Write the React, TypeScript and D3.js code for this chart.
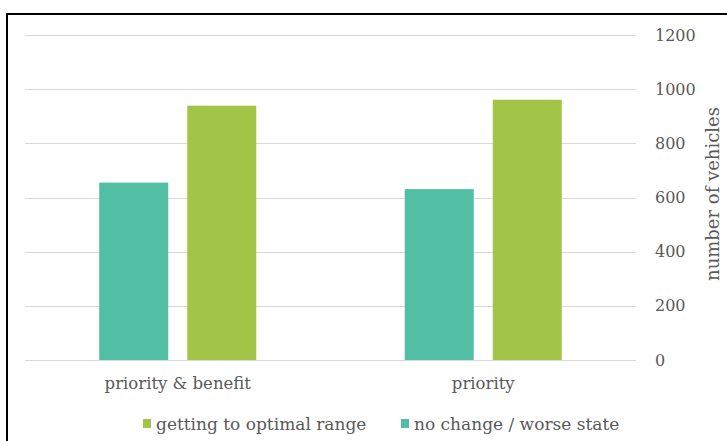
import React, { useEffect, useRef } from 'react';
import * as d3 from 'd3';

const categories = ['priority & benefit', 'priority'];
const seriesNames = ['no change / worse state', 'getting to optimal range'];
const noChange = [655, 631];
const optimal = [939, 961];
const yTicks = [0, 200, 400, 600, 800, 1000, 1200];
const legendOrder = ['getting to optimal range', 'no change / worse state'];

const colors: Record<string, string> = {
  'no change / worse state': '#52bfa4',
  'getting to optimal range': '#a2c548',
};

const FONT = '"DejaVu Serif", serif';
const TEXT = '#595959';

const App: React.FC = () => {
  const ref = useRef<SVGSVGElement>(null);

  useEffect(() => {
    const width = 727;
    const height = 441;
    const left = 25;
    const right = 636;
    const top = 35;
    const bottom = 360;

    const svg = d3.select(ref.current);
    svg.selectAll('*').remove();
    svg.attr('width', width).attr('height', height);

    // outer frame (runs off the right and bottom of the picture)
    svg.append('rect')
      .attr('x', 7).attr('y', 14)
      .attr('width', 740).attr('height', 450)
      .attr('fill', '#fff')
      .attr('stroke', '#000')
      .attr('stroke-width', 2);

    const y = d3.scaleLinear().domain([0, 1200]).range([bottom, top]);

    const x0 = d3.scaleBand<string>()
      .domain(categories)
      .range([left, right])
      .paddingInner(0.486)
      .paddingOuter(0.243);

    const x1 = d3.scaleBand<string>()
      .domain(seriesNames)
      .range([0, x0.bandwidth()])
      .paddingInner(0.216);

    // gridlines
    svg.append('g')
      .selectAll('line')
      .data(yTicks)
      .enter().append('line')
      .attr('x1', left).attr('x2', right)
      .attr('y1', d => Math.round(y(d)) + 0.5)
      .attr('y2', d => Math.round(y(d)) + 0.5)
      .attr('stroke', '#d9d9d9')
      .attr('stroke-width', 1);

    // right axis labels
    svg.append('g')
      .selectAll('text')
      .data(yTicks)
      .enter().append('text')
      .attr('x', 655)
      .attr('y', d => y(d))
      .attr('dy', '0.35em')
      .attr('font-family', FONT)
      .attr('font-size', 16)
      .attr('fill', TEXT)
      .text(d => d);

    svg.append('text')
      .attr('transform', `translate(719, 194) rotate(-90)`)
      .attr('text-anchor', 'middle')
      .attr('font-family', FONT)
      .attr('font-size', 18)
      .attr('fill', TEXT)
      .text('number of vehicles');

    // bars
    const values: Record<string, number[]> = {
      'no change / worse state': noChange,
      'getting to optimal range': optimal,
    };

    const groups = svg.append('g')
      .selectAll('g')
      .data(categories)
      .enter().append('g')
      .attr('transform', d => `translate(${x0(d)},0)`);

    groups.selectAll('rect')
      .data((c, i) => seriesNames.map(s => ({ s, v: values[s][i] })))
      .enter().append('rect')
      .attr('x', d => x1(d.s) as number)
      .attr('width', x1.bandwidth())
      .attr('y', d => y(d.v))
      .attr('height', d => bottom - y(d.v))
      .attr('fill', d => colors[d.s]);

    // category labels
    svg.append('g')
      .selectAll('text')
      .data(categories)
      .enter().append('text')
      .attr('x', d => (x0(d) as number) + x0.bandwidth() / 2)
      .attr('y', 389)
      .attr('text-anchor', 'middle')
      .attr('font-family', FONT)
      .attr('font-size', 16.5)
      .attr('fill', TEXT)
      .text(d => d);

    // legend
    const legendX = [143, 401];
    const legend = svg.append('g')
      .selectAll('g')
      .data(legendOrder)
      .enter().append('g')
      .attr('transform', (d, i) => `translate(${legendX[i]}, 424)`);

    legend.append('rect')
      .attr('x', 0).attr('y', -5)
      .attr('width', 8).attr('height', 9)
      .attr('fill', d => colors[d]);

    legend.append('text')
      .attr('x', 13)
      .attr('y', 0)
      .attr('dy', '0.35em')
      .attr('font-family', FONT)
      .attr('font-size', 17)
      .attr('fill', TEXT)
      .text(d => d);
  }, []);

  return (
    <div style={{ position: 'absolute', left: 0, top: 0 }}>
      <svg ref={ref}></svg>
    </div>
  );
};

export default App;
